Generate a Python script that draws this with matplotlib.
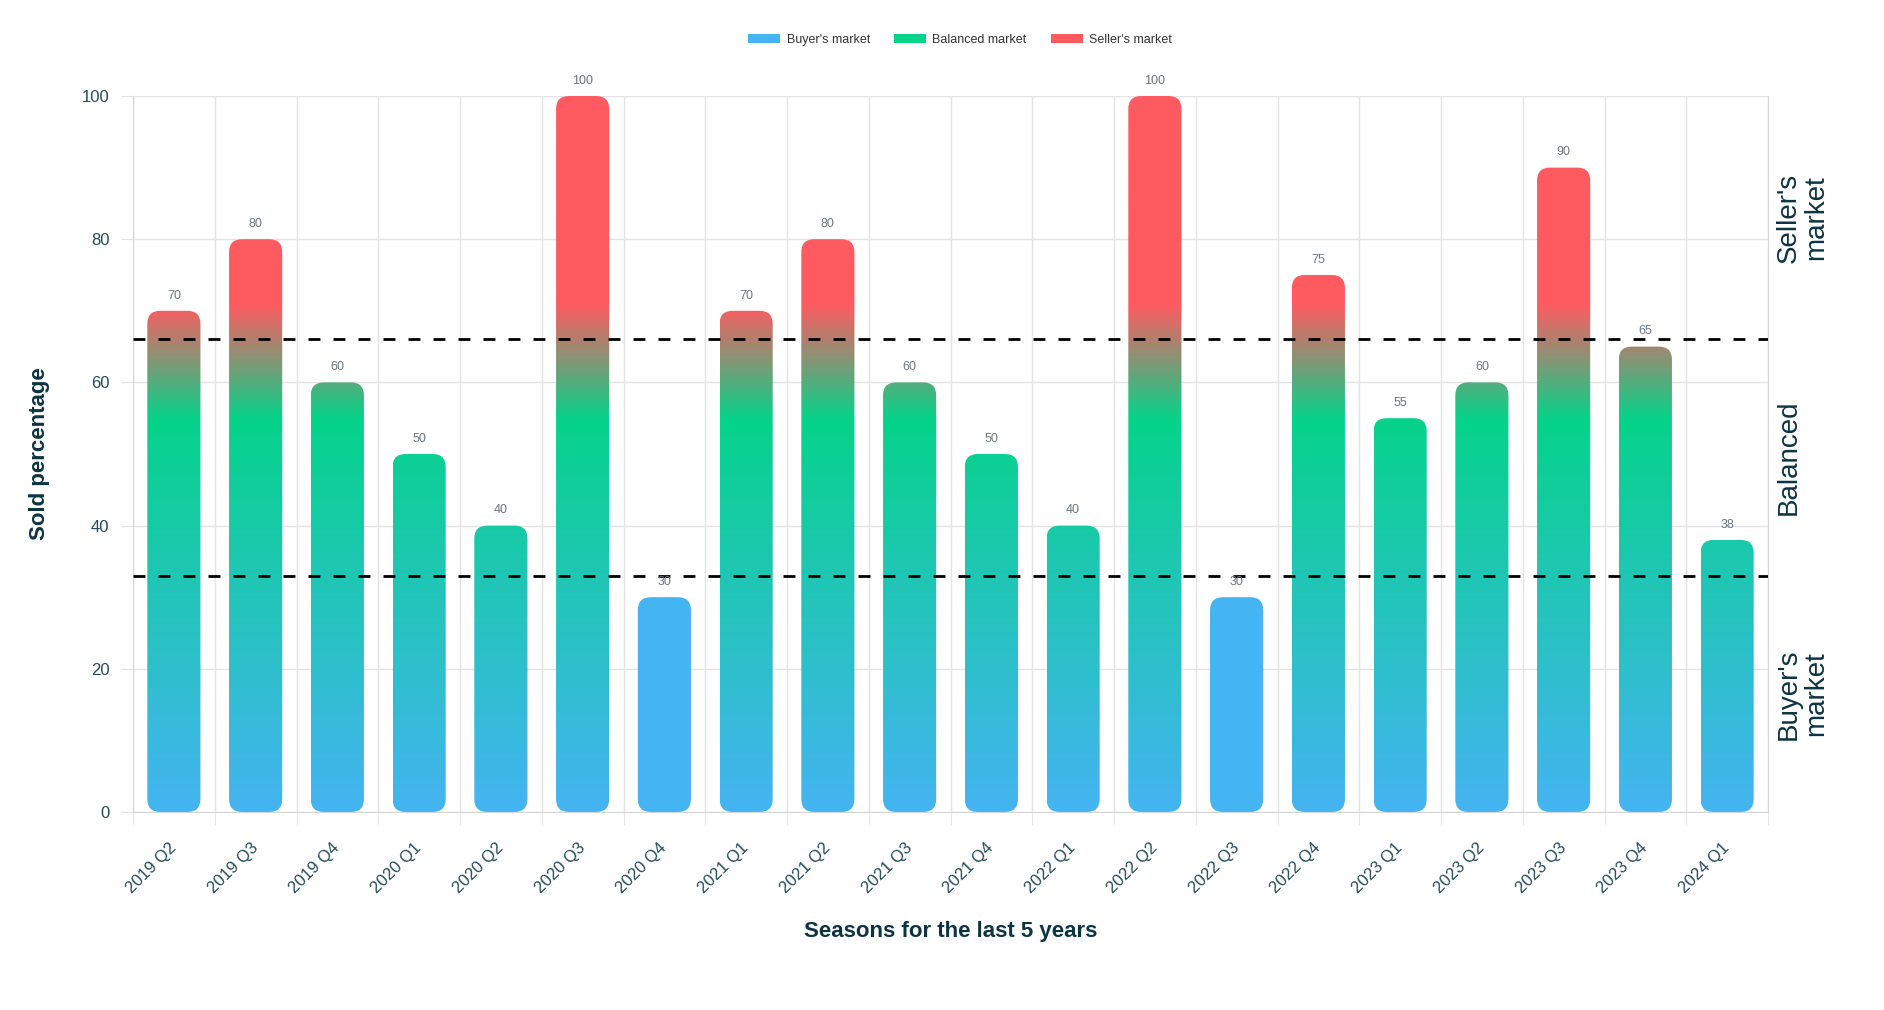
import numpy as np
import matplotlib
matplotlib.use("Agg")
import matplotlib.pyplot as plt
from matplotlib.colors import LinearSegmentedColormap
from matplotlib.patches import FancyBboxPatch, Patch
from matplotlib.transforms import ScaledTranslation

# data
seasons = ["2019 Q2", "2019 Q3", "2019 Q4", "2020 Q1", "2020 Q2", "2020 Q3", "2020 Q4",
           "2021 Q1", "2021 Q2", "2021 Q3", "2021 Q4", "2022 Q1", "2022 Q2", "2022 Q3",
           "2022 Q4", "2023 Q1", "2023 Q2", "2023 Q3", "2023 Q4", "2024 Q1"]
sold_pct = [70, 80, 60, 50, 40, 100, 30, 70, 80, 60, 50, 40, 100, 30, 75, 55, 60, 90, 65, 38]
thresholds = [33, 66]
zone_labels = ["Buyer's\nmarket", "Balanced", "Seller's\nmarket"]
zone_mid = [16.5, 49.5, 83]
legend_names = ["Buyer's market", "Balanced market", "Seller's market"]

BLUE, GREEN, RED = "#45b4f2", "#06d38a", "#fe5b61"
TXT = "#244b5a"
DARK = "#0c3442"
GRIDC = "#e3e3e3"

plt.rcParams["font.family"] = ["Liberation Sans", "DejaVu Sans"]

fig = plt.figure(figsize=(18.84, 10.10), dpi=100)
ax = fig.add_axes([133 / 1884, 1 - 812 / 1010, (1768 - 133) / 1884, (812 - 96) / 1010])

cmap = LinearSegmentedColormap.from_list(
    "market", [(0, BLUE), (0.55, GREEN), (0.71, RED), (1, RED)])
grad = cmap(np.linspace(0, 1, 400))[:, None, :]

n = len(seasons)
x = np.arange(n)
w = 0.65
# corner radius ~13px; x scale ~81.75 px/unit, y scale ~7.16 px/unit
r = 13 / 81.75
aspect = 81.75 / 7.16

for xi, v in zip(x, sold_pct):
    patch = FancyBboxPatch((xi - w / 2, 0), w, v,
                           boxstyle=f"round,pad=0,rounding_size={r}",
                           mutation_aspect=aspect, linewidth=0,
                           facecolor=BLUE, zorder=2)
    ax.add_patch(patch)
    if v >= thresholds[0]:
        patch.set_facecolor("none")
        im = ax.imshow(grad, extent=[xi - w / 2, xi + w / 2, 0, 100], origin="lower",
                       aspect="auto", zorder=2, interpolation="bilinear")
        im.set_clip_path(patch)
    ax.annotate(str(v), (xi, v), xytext=(0, 11), textcoords="offset points",
                ha="center", va="center", fontsize=9, color="#6b7680", zorder=4)

for t in thresholds:
    ax.axhline(t, color="black", lw=2, linestyle=(0, (4.3, 4.7)), zorder=3)

ax.set_xlim(-0.5, n - 0.5)
ax.set_ylim(0, 100)

ax.set_yticks(range(0, 101, 20))
ax.set_xticks(x)
ax.set_xticks(np.arange(-0.5, n, 1), minor=True)
ax.set_xticklabels(seasons, rotation=45, ha="right", va="center", rotation_mode="anchor")
for lab in ax.get_xticklabels():
    lab.set_transform(lab.get_transform() + ScaledTranslation(0.08, 0, fig.dpi_scale_trans))

ax.tick_params(axis="x", which="major", length=0, pad=24, labelsize=12, labelcolor=TXT)
ax.tick_params(axis="x", which="minor", length=9, color=GRIDC)
ax.tick_params(axis="y", length=9, color=GRIDC, pad=8, labelsize=12, labelcolor=TXT)

ax.grid(axis="y", color=GRIDC, lw=1, zorder=0)
ax.grid(axis="x", which="minor", color=GRIDC, lw=1, zorder=0)
ax.set_axisbelow(True)
for s in ["left", "bottom", "right"]:
    ax.spines[s].set_color("#d6d6d6")
ax.spines["top"].set_visible(False)

ax.set_ylabel("Sold percentage", fontsize=16, fontweight="bold", color=DARK)
ax.yaxis.set_label_coords(-0.051, 0.5)
ax.set_xlabel("Seasons for the last 5 years", fontsize=16, fontweight="bold", color=DARK)
ax.xaxis.set_label_coords(0.5, -0.152)

for lab, ym in zip(zone_labels, zone_mid):
    ax.text(1.005, ym, lab, transform=ax.get_yaxis_transform(), rotation=90,
            ha="left", va="center", multialignment="center", fontsize=20,
            color=DARK, linespacing=1.05, clip_on=False)

handles = [Patch(facecolor=c, edgecolor="none") for c in (BLUE, GREEN, RED)]
fig.legend(handles, legend_names, loc="center", bbox_to_anchor=(960 / 1884, 1 - 40 / 1010),
           ncol=3, frameon=False, fontsize=9, handlelength=2.6, handleheight=0.65,
           handletextpad=0.5, columnspacing=1.9, labelcolor="#333333")

fig.savefig("out.png", dpi=100)
